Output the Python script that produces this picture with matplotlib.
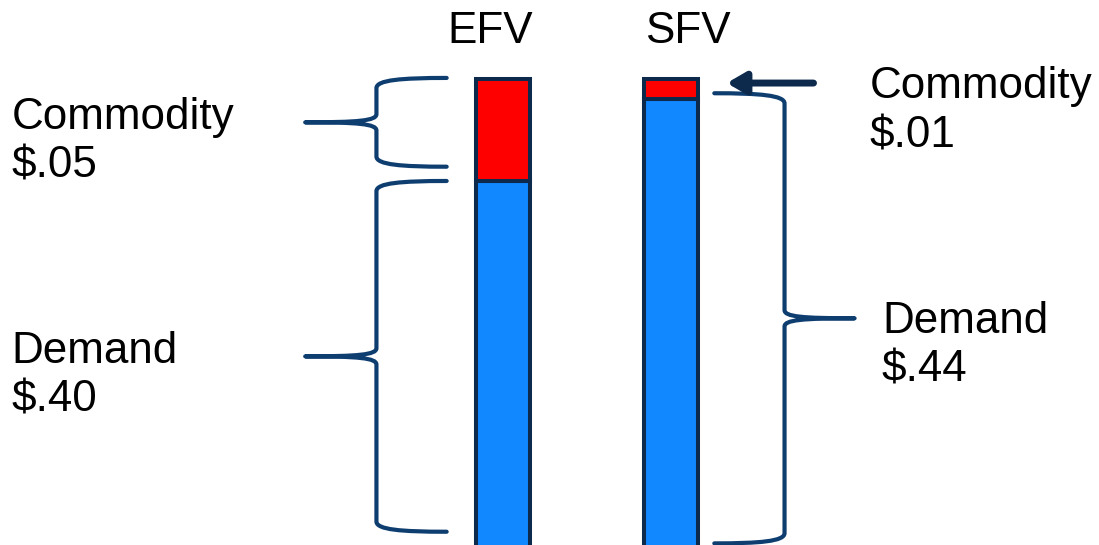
import matplotlib
matplotlib.use("Agg")
import matplotlib.pyplot as plt
from matplotlib.path import Path
from matplotlib.patches import PathPatch

plt.rcParams['font.family'] = ['Liberation Sans', 'DejaVu Sans']

# data
categories = ['EFV', 'SFV']
demand = [0.40, 0.44]
commodity = [0.05, 0.01]

W, H = 1099, 545
BLUE = '#1188ff'
RED = '#ff0000'
EDGE = '#0d2a4d'
BRACE = '#0e3d70'

fig = plt.figure(figsize=(W / 100, H / 100), dpi=100)
ax = fig.add_axes([0, 0, 1, 1])
ax.axis('off')

x = [0, 1]
bw = 0.322
ax.bar(x, demand, width=bw, color=BLUE, edgecolor=EDGE, linewidth=2.9)
ax.bar(x, commodity, bottom=demand, width=bw, color=RED, edgecolor=EDGE, linewidth=2.9)

# only the top of the bars is visible (slide crop)
ax.set_xlim(-2.985, 3.54)
ax.set_ylim(0.2216, 0.4887)
y0 = ax.get_ylim()[0]


def brace(x_end, x_mid, x_tip, y_top, y_bot, r=0.005, rt=0.004):
    ym = (y_top + y_bot) / 2
    de = x_end - x_mid
    dt = x_tip - x_mid
    verts = [(x_end, y_top),
             (x_mid + 0.35 * de, y_top), (x_mid, y_top - 0.2 * r), (x_mid, y_top - r),
             (x_mid, ym + rt),
             (x_mid, ym + 0.2 * rt), (x_mid + 0.25 * dt, ym), (x_tip, ym),
             (x_mid + 0.25 * dt, ym), (x_mid, ym - 0.2 * rt), (x_mid, ym - rt),
             (x_mid, y_bot + r),
             (x_mid, y_bot + 0.2 * r), (x_mid + 0.35 * de, y_bot), (x_end, y_bot)]
    codes = ([Path.MOVETO] + [Path.CURVE4] * 3 + [Path.LINETO] + [Path.CURVE4] * 6
             + [Path.LINETO] + [Path.CURVE4] * 3)
    ax.add_patch(PathPatch(Path(verts, codes), fill=False, edgecolor=BRACE,
                           linewidth=3.0, capstyle='round', joinstyle='round'))


tot = [d + c for d, c in zip(demand, commodity)]
# EFV braces on the left
brace(x[0] - 0.333, x[0] - 0.75, x[0] - 1.173, tot[0] + 0.0005, demand[0] + 0.007)
brace(x[0] - 0.333, x[0] - 0.75, x[0] - 1.173, demand[0], y0 + 0.0065)
# SFV demand brace on the right
brace(x[1] + 0.256, x[1] + 0.673, x[1] + 1.089, demand[1] + 0.003, y0 + 0.0008)

# arrow pointing at the thin SFV commodity slice
ax.annotate('', xy=(x[1] + 0.33, tot[1] - 0.002), xytext=(x[1] + 0.845, tot[1] - 0.002),
            arrowprops=dict(arrowstyle='-|>,head_length=0.55,head_width=0.32',
                            lw=5, color=EDGE, mutation_scale=20,
                            shrinkA=0, shrinkB=0, capstyle='round'))


def fmt(v):
    return '$' + f'{v:.2f}'.lstrip('0')


def txt(px, py, s):
    fig.text(px / W, 1 - py / H, s, fontsize=31.7, ha='left', va='baseline', color='black')


txt(447, 43, categories[0])
txt(645, 43, categories[1])
txt(12, 129, 'Commodity')
txt(12, 177, fmt(commodity[0]))
txt(11, 363, 'Demand')
txt(11, 412, fmt(demand[0]))
txt(870, 98, 'Commodity')
txt(870, 147, fmt(commodity[1]))
txt(882, 333, 'Demand')
txt(882, 382, fmt(demand[1]))

fig.savefig('out.png', dpi=100, facecolor='white')
